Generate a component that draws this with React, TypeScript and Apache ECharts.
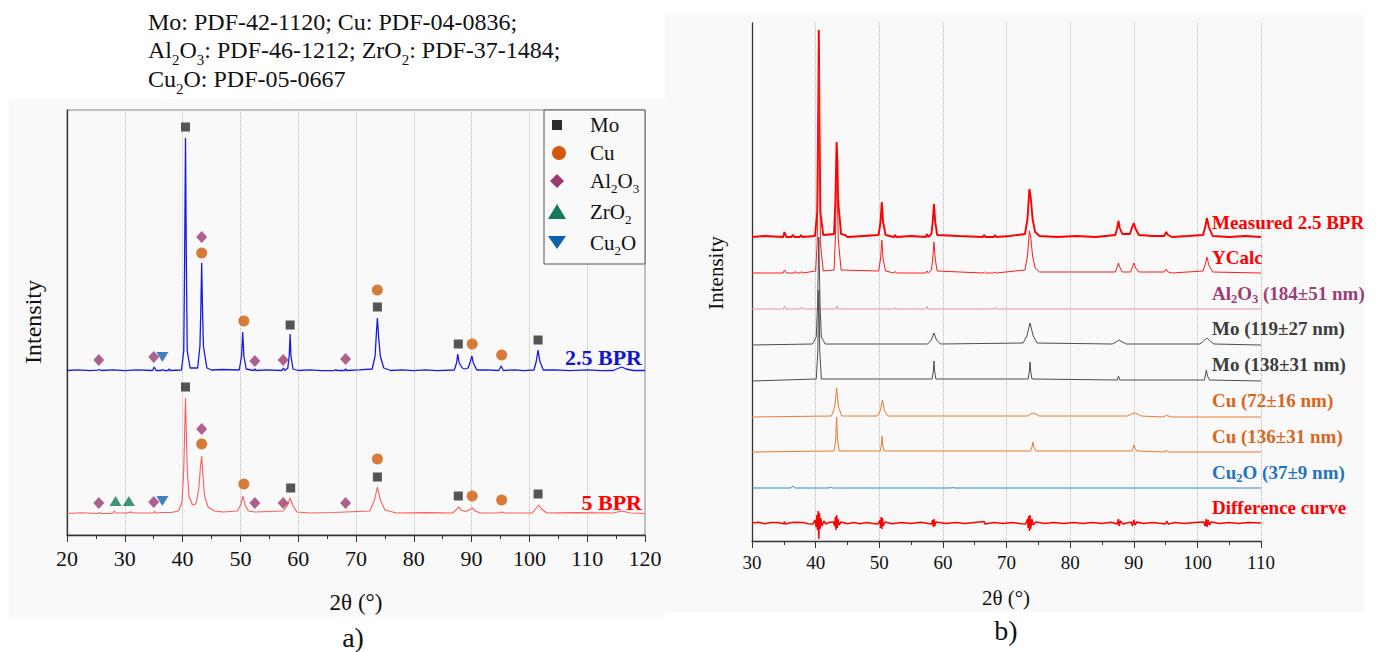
import React, { useEffect, useRef } from "react";
import * as echarts from "echarts";

const FONT = "Liberation Serif, Times New Roman, serif";

// ---------- Panel a) : 2θ vs intensity above each pattern's own baseline ----------
const patternA_25BPR: number[][] = [
  [20, 0.5], [22, 1.2], [24, 0.3], [25.3, 0.8], [25.6, 1.5], [25.9, 0.5], [28, 1.2], [30, 0.3], [32, 1.1], [34.8, 0.5], [35.1, 4], [35.4, 0.5], [36.3, 0.5], [36.5, 1.5], [36.8, 0.5],
  [37.5, 0.5], [37.7, 2], [37.9, 0.5], [39.8, 1], [40.2, 20], [40.35, 110], [40.5, 233], [40.65, 110], [40.8, 20], [41.3, 3],
  [42.6, 3], [43.0, 25], [43.15, 60], [43.3, 108], [43.45, 60], [43.6, 25], [44.2, 3], [45, 1], [47, 1.5], [49.8, 1], [50.2, 15],
  [50.4, 39], [50.6, 15], [51.0, 2], [52.3, 0.5], [52.5, 2], [52.7, 0.5], [54.5, 1.2], [57.2, 0.5], [57.45, 3], [57.7, 0.5], [58.2, 3],
  [58.45, 15], [58.6, 37], [58.75, 15], [59.1, 2], [60, 0.5], [62, 1.2], [64, 0.4], [66.3, 0.5], [66.5, 1.5], [66.7, 0.5], [68.0, 0.5], [68.2, 2],
  [68.4, 0.5], [70.5, 1.2], [72.8, 2], [73.3, 15], [73.5, 35], [73.7, 53], [73.9, 35], [74.2, 15], [74.8, 3], [76, 0.5], [78, 1.2], [80, 0.3], [82, 1.1], [84, 0.4], [87.0, 1],
  [87.4, 8], [87.6, 17], [87.85, 8], [88.4, 3], [88.8, 2], [89.4, 3], [89.8, 10], [90.05, 15], [90.3, 8], [90.9, 1],
  [92.5, 1.2], [94.7, 0.5], [95.1, 5], [95.5, 0.5], [97.5, 1.2], [99, 0.4], [100.8, 1], [101.2, 10], [101.5, 21], [101.8, 10], [102.4, 1], [104.5, 1.2], [107, 0.3], [110, 1.1], [112.5, 0.4], [114.5, 0.5], [115.5, 3],
  [116, 4], [116.7, 2], [118, 0.5], [120, 0.5],
];
const patternA_5BPR: number[][] = [
  [20, 0.5], [22.5, 1.2], [25.3, 0.5], [25.6, 1.5], [25.9, 0.5], [27.9, 0.5], [28.2, 3], [28.5, 1], [30.4, 1], [31, 2], [31.6, 1],
  [34.9, 1], [35.1, 2.5], [35.4, 1], [36.5, 1.5], [38, 1.5], [39.3, 3], [39.9, 12], [40.2, 45], [40.5, 116], [40.8, 45],
  [41.1, 18], [41.7, 9], [42.3, 10], [42.8, 25], [43.1, 48], [43.3, 58], [43.5, 40], [43.8, 18], [44.4, 7], [45.5, 3],
  [47, 2], [49.5, 3], [50.1, 10], [50.45, 18], [50.8, 9], [51.4, 3], [52.5, 2], [57.4, 3], [58.1, 8], [58.6, 16],
  [59.1, 8], [59.8, 2], [62, 1], [66, 1.5], [72.4, 3], [73.2, 14], [73.7, 27], [74.2, 14], [75, 4], [77, 1], [82, 1.4], [86.7, 1],
  [87.3, 4], [87.7, 7], [88.2, 4], [88.9, 2.5], [89.6, 4], [90.1, 6], [90.6, 3], [91.5, 1], [94.7, 1], [95.2, 2],
  [95.7, 1], [100.5, 1], [101.2, 6], [101.6, 9], [102.1, 5], [103, 1], [108, 1.4], [114.5, 1], [116, 3], [117.5, 1], [120, 0.5],
];
const offsetA_25BPR = 164;
const offsetA_5BPR = 21;

// phase markers (2θ, height on panel a's axis)
const markMo: number[][] = [[40.5, 408], [58.6, 210], [73.7, 228], [87.7, 191], [101.5, 195],
  [40.5, 148], [58.7, 47], [73.7, 58], [87.7, 39], [101.5, 41]];
const markCu: number[][] = [[43.3, 282], [50.6, 214], [73.7, 245], [90.1, 191], [95.2, 180],
  [43.3, 91], [50.6, 51], [73.7, 76], [90.1, 39], [95.2, 35]];
const markAl2O3: number[][] = [[43.3, 298], [25.5, 175], [35.0, 178], [52.5, 174], [57.4, 175], [68.2, 176],
  [43.3, 106], [25.5, 32], [35.0, 33], [52.5, 32], [57.4, 32], [68.2, 32]];
const markZrO2: number[][] = [[28.4, 34], [30.7, 34]];
const markCu2O: number[][] = [[36.5, 178], [36.5, 34]];

// ---------- Panel b) : Rietveld components ----------
const measured: number[][] = [
  [30, 0], [32, 1], [34.9, 0], [35.1, 5], [35.4, 0], [36.2, 0], [36.4, 2], [36.7, 0], [37.5, 0], [37.7, 2], [37.9, 0],
  [39.9, 1], [40.25, 25], [40.4, 120], [40.5, 207], [40.6, 120], [40.75, 25], [41.2, 2], [42.9, 3], [43.1, 35], [43.25, 80],
  [43.3, 95], [43.4, 80], [43.55, 35], [44, 3], [44.6, 2], [45, 0], [47.5, 1], [49.9, 2], [50.2, 15], [50.4, 35], [50.6, 15],
  [51, 2], [52.3, 0], [52.5, 2], [52.7, 0], [55, 1], [57.3, 0], [57.5, 3], [57.7, 0], [58.2, 3], [58.4, 15], [58.6, 33],
  [58.8, 15], [59.1, 2], [62.5, 1], [66.3, 0], [66.5, 2], [66.7, 0], [68, 0], [68.2, 2], [68.4, 0], [70.5, 1], [72.9, 3], [73.3, 18],
  [73.6, 48], [73.8, 40], [74.1, 18], [74.5, 5], [75.2, 1], [78, 0], [81, 1], [84, 0], [87.1, 2], [87.4, 9], [87.6, 16], [87.8, 9], [88.2, 3],
  [89.4, 3], [89.75, 10], [90, 14], [90.3, 8], [90.8, 2], [93, 1], [94.8, 1], [95.1, 5], [95.4, 2], [96, 0], [98.5, 1], [100.9, 2],
  [101.3, 12], [101.5, 19], [101.8, 10], [102.4, 1], [105, 0], [107.5, 1], [110, 0],
];
const yCalc: number[][] = [
  [30, 0], [34.9, 0], [35.1, 3], [35.4, 0], [36.6, 0], [36.8, 1.5], [37, 0], [37.6, 0], [37.8, 1.5], [38, 0],
  [40, 2], [40.25, 30], [40.4, 130], [40.5, 205], [40.6, 130], [40.75, 30], [41.2, 2], [42.9, 3], [43.1, 35], [43.25, 80],
  [43.3, 93], [43.4, 80], [43.55, 35], [44, 3], [49.9, 2], [50.2, 14], [50.4, 33], [50.6, 14], [51, 2], [52.3, 0],
  [52.5, 1.5], [52.7, 0], [57.3, 0], [57.5, 2], [57.7, 0], [58.2, 3], [58.4, 14], [58.6, 31], [58.8, 14], [59.1, 2],
  [66.3, 0], [66.5, 1], [66.7, 0], [68, 0], [68.2, 1], [68.4, 0], [72.9, 3], [73.3, 17], [73.6, 42], [73.8, 36],
  [74.1, 17], [74.5, 5], [75.2, 1], [87.1, 1], [87.4, 6], [87.6, 10], [87.8, 6], [88.2, 1], [89.5, 1], [89.8, 6],
  [90, 10], [90.3, 5], [90.8, 1], [94.8, 1], [95.1, 4], [95.4, 1], [96, 0], [100.9, 2], [101.3, 10], [101.5, 16],
  [101.8, 8], [102.4, 1], [110, 0],
];
const al2o3Phase: number[][] = [
  [30, 0], [34.9, 0], [35.1, 3], [35.3, 0], [37.6, 0], [37.8, 2], [38, 0], [43.2, 0], [43.35, 3], [43.5, 0],
  [52.4, 0], [52.55, 1.5], [52.7, 0], [57.3, 0], [57.5, 2.5], [57.7, 0], [66.4, 0], [66.5, 1], [66.7, 0], [68.1, 0],
  [68.2, 1.5], [68.4, 0], [110, 0],
];
const mo119Phase: number[][] = [
  [30, 0], [39.5, 1], [40.1, 8], [40.3, 40], [40.5, 108], [40.7, 40], [40.9, 8], [41.5, 1], [57.6, 1], [58.2, 5],
  [58.6, 12], [59, 5], [59.6, 1], [72.6, 2], [73.2, 9], [73.7, 22], [74.2, 9], [74.8, 2], [86.6, 1], [87.2, 3],
  [87.7, 5], [88.2, 3], [88.8, 1], [100.4, 1], [101.0, 4], [101.5, 7], [102, 4], [102.6, 1], [110, 0],
];
const mo138Phase: number[][] = [
  [30, 0], [40.1, 2], [40.35, 30], [40.5, 91], [40.65, 30], [40.9, 2], [58.3, 2], [58.5, 10], [58.6, 20], [58.7, 10],
  [58.9, 2], [73.4, 2], [73.6, 10], [73.7, 19], [73.8, 10], [74, 2], [87.4, 1], [87.6, 5], [87.8, 1], [101.1, 1],
  [101.3, 7], [101.4, 11], [101.6, 5], [101.9, 1], [110, 0],
];
const cu72Phase: number[][] = [
  [30, 0], [42.5, 1], [43, 10], [43.3, 29], [43.6, 10], [44.1, 1], [49.7, 1], [50.2, 7], [50.5, 17], [50.8, 7],
  [51.3, 1], [73.3, 1], [73.8, 3], [74.2, 4], [74.6, 3], [75.1, 1], [89.0, 1], [89.6, 3], [90.1, 4], [90.6, 3],
  [91.2, 1], [94.5, 0], [95.2, 1.5], [95.9, 0], [110, 0],
];
const cu136Phase: number[][] = [
  [30, 0], [42.9, 1], [43.15, 12], [43.3, 35], [43.45, 12], [43.7, 1], [50.15, 1], [50.35, 7], [50.45, 16], [50.55, 7],
  [50.75, 1], [73.8, 1], [74.0, 5], [74.15, 10], [74.3, 5], [74.6, 1], [89.7, 1], [89.9, 4], [90.0, 7], [90.2, 4],
  [90.5, 1], [94.9, 0], [95.1, 2], [95.4, 0], [110, 0],
];
const cu2oPhase: number[][] = [
  [30, 0], [36.1, 0], [36.4, 2], [36.8, 0], [42.1, 0], [42.3, 0.8], [42.6, 0], [61.2, 0], [61.5, 0.5], [61.8, 0], [110, 0],
];
const difference: number[][] = [
  [30, 0], [31, 0.8], [32, -0.7], [33, 0.6], [34, 0.5], [35, -0.8], [35.1, 1.5], [35.2, -1], [36.5, 0.8], [38, 0.6], [38.8, -0.8], [39.6, -1], [39.9, 3], [40.1, -4], [40.2, 8],
  [40.3, -7], [40.4, 12], [40.5, -16], [40.6, 10], [40.7, -6], [40.8, 5], [41, -3], [41.3, 2], [41.6, -1], [42.2, 0.8], [42.8, 1],
  [43.0, -3], [43.1, 6], [43.2, -7], [43.3, 8], [43.4, -5], [43.5, 4], [43.7, -2], [44, 1], [45, -0.7], [46, 0.6], [47, -0.7], [48, 0.6], [49, -0.6], [49.8, -1], [50.1, 3],
  [50.2, -5], [50.3, 6], [50.4, -6], [50.5, 5], [50.6, -3], [50.9, 1], [52, -0.7], [53.5, 0.6], [55, -0.6], [56.5, 0.7], [58.2, -1], [58.4, 3], [58.5, -4], [58.6, 4],
  [58.7, -3], [58.9, 1], [60.5, -0.6], [62, 0.6], [63.5, -0.6], [65, 0.6], [66.5, 1.5], [66.6, -1], [68, 0.6], [69.5, -0.6], [71, 0.6], [72.3, -0.7], [73, -1], [73.3, 4], [73.4, -5], [73.5, 7], [73.6, -8], [73.7, 8],
  [73.8, -6], [74, 4], [74.2, -2], [74.6, 1], [76, -0.6], [77.5, 0.6], [79, -0.6], [80.5, 0.6], [82, -0.6], [83.5, 0.6], [85, -0.6], [86.5, 0.7], [87.4, -1], [87.6, 4], [87.7, -3], [87.9, 2], [88.3, -1], [89.6, 1],
  [89.8, -3], [90, 3], [90.2, -2], [90.5, 1], [91.5, -0.6], [93, 0.6], [95, -1], [95.2, 2], [95.4, -1], [96.5, 0.6], [98, -0.6], [99.5, 0.6], [101, 1], [101.2, -3], [101.4, 4],
  [101.5, -4], [101.7, 3], [101.9, -2], [102.2, 1], [103.5, -0.6], [105, 0.6], [106.5, -0.6], [108, 0.6], [110, 0],
];

const curvesB = [
  { name: "Measured 2.5 BPR", data: measured, offset: 304, color: "#ff0000", width: 1.9, label: "Measured 2.5 BPR", labelColor: "#ff0000" },
  { name: "YCalc", data: yCalc, offset: 268, color: "#ff1a1a", width: 1, label: "YCalc", labelColor: "#ff0000" },
  { name: "Al2O3", data: al2o3Phase, offset: 232, color: "#e58fb0", width: 1, label: "Al_2O_3 (184±51 nm)", labelColor: "#993f78" },
  { name: "Mo 119", data: mo119Phase, offset: 196, color: "#4d4d4d", width: 1, label: "Mo (119±27 nm)", labelColor: "#3d3d3d" },
  { name: "Mo 138", data: mo138Phase, offset: 160, color: "#4d4d4d", width: 1, label: "Mo (138±31 nm)", labelColor: "#3d3d3d" },
  { name: "Cu 72", data: cu72Phase, offset: 124, color: "#ee7a30", width: 1, label: "Cu (72±16 nm)", labelColor: "#d9661c" },
  { name: "Cu 136", data: cu136Phase, offset: 89, color: "#ee7a30", width: 1, label: "Cu (136±31 nm)", labelColor: "#d9661c" },
  { name: "Cu2O", data: cu2oPhase, offset: 53, color: "#2f86d0", width: 1, label: "Cu_2O (37±9 nm)", labelColor: "#1f74c0" },
  { name: "Difference curve", data: difference, offset: 18, color: "#ff0000", width: 1.5, label: "Difference curve", labelColor: "#ff0000" },
];

const topNotes = [
  "Mo: PDF-42-1120; Cu: PDF-04-0836;",
  "Al_2O_3: PDF-46-1212; ZrO_2: PDF-37-1484;",
  "Cu_2O: PDF-05-0667",
];

const legendItems = [
  { label: "Mo", color: "#2b2b2b", shape: "square" },
  { label: "Cu", color: "#d05a0a", shape: "circle" },
  { label: "Al_2O_3", color: "#9b3b74", shape: "diamond" },
  { label: "ZrO_2", color: "#127a5a", shape: "triUp" },
  { label: "Cu_2O", color: "#1060b0", shape: "triDown" },
];

const xTitle = "2θ (°)";
const yTitle = "Intensity";

function toRich(s: string): string {
  return s
    .split(/(_\d)/)
    .filter((p) => p.length > 0)
    .map((p) => (p.startsWith("_") ? `{s|${p.slice(1)}}` : `{n|${p.replace(/[{}|]/g, "")}}`))
    .join("");
}

function shift(data: number[][], off: number) {
  return data.map(([x, y]) => [x, y + off]);
}

export default function App() {
  const ref = useRef<HTMLDivElement>(null);
  useEffect(() => {
    if (!ref.current) return;
    const chart = echarts.init(ref.current, undefined, { renderer: "svg" });

    const graphics: any[] = [];
    graphics.push({ type: "rect", z: -100, shape: { x: 9, y: 99, width: 656, height: 518 }, style: { fill: "#f9f9f9" } });
    graphics.push({ type: "rect", z: -100, shape: { x: 665, y: 15, width: 699, height: 597 }, style: { fill: "#f9f9f9" } });

    // top notes
    const noteY = [22, 50, 79];
    topNotes.forEach((t, i) => {
      graphics.push({
        type: "text", x: 148, y: noteY[i], z: 10,
        style: {
          text: toRich(t), textAlign: "left", textVerticalAlign: "middle",
          rich: {
            n: { fontSize: 24, fontFamily: FONT, fill: "#111" },
            s: { fontSize: 15, fontFamily: FONT, fill: "#111", padding: [20, 0, 0, 0] },
          },
        },
      });
    });

    // legend box
    const lx = 557, ly = [125, 153, 181, 212, 243];
    graphics.push({ type: "rect", z: 10, shape: { x: 544, y: 110, width: 101, height: 154 }, style: { fill: "#f9f9f9", stroke: "#555", lineWidth: 1 } });
    legendItems.forEach((it, i) => {
      const cy = ly[i];
      let sym: any;
      if (it.shape === "square") sym = { type: "rect", shape: { x: lx - 5, y: cy - 5, width: 10, height: 10 } };
      else if (it.shape === "circle") sym = { type: "circle", shape: { cx: lx + 2, cy, r: 7 } };
      else if (it.shape === "diamond") sym = { type: "polygon", shape: { points: [[lx, cy - 7], [lx + 7, cy], [lx, cy + 7], [lx - 7, cy]] } };
      else if (it.shape === "triUp") sym = { type: "polygon", shape: { points: [[lx, cy - 8], [lx + 9, cy + 7], [lx - 9, cy + 7]] } };
      else sym = { type: "polygon", shape: { points: [[lx - 9, cy - 7], [lx + 9, cy - 7], [lx, cy + 6]] } };
      sym.z = 11;
      sym.style = { fill: it.color };
      graphics.push(sym);
      graphics.push({
        type: "text", x: 590, y: cy, z: 11,
        style: {
          text: toRich(it.label), textAlign: "left", textVerticalAlign: "middle",
          rich: {
            n: { fontSize: 21, fontFamily: FONT, fill: "#111" },
            s: { fontSize: 13, fontFamily: FONT, fill: "#111", padding: [14, 0, 0, 0] },
          },
        },
      });
    });

    // panel a) pattern labels
    graphics.push({ type: "text", x: 642, y: 357, z: 12, style: { text: "2.5 BPR", textAlign: "right", textVerticalAlign: "middle", fontSize: 22, fontWeight: "bold", fontFamily: FONT, fill: "#1414c8" } });
    graphics.push({ type: "text", x: 642, y: 502, z: 12, style: { text: "5 BPR", textAlign: "right", textVerticalAlign: "middle", fontSize: 22, fontWeight: "bold", fontFamily: FONT, fill: "#ff0000" } });

    // panel b) labels
    const labelY = [222, 257, 293, 328, 364, 400, 436, 472, 507];
    curvesB.forEach((c, i) => {
      graphics.push({
        type: "text", x: 1212, y: labelY[i], z: 12,
        style: {
          text: toRich(c.label), textAlign: "left", textVerticalAlign: "middle",
          rich: {
            n: { fontSize: 19, fontWeight: "bold", fontFamily: FONT, fill: c.labelColor },
            s: { fontSize: 12.5, fontWeight: "bold", fontFamily: FONT, fill: c.labelColor, padding: [11, 0, 0, 0] },
          },
        },
      });
    });

    // axis titles
    const titleStyle = (text: string, size: number) => ({ text, textAlign: "center", textVerticalAlign: "middle", fontSize: size, fontFamily: FONT, fill: "#111" });
    graphics.push({ type: "text", x: 356, y: 602, z: 12, style: titleStyle(xTitle, 23) });
    graphics.push({ type: "text", x: 1006, y: 598, z: 12, style: titleStyle(xTitle, 21) });
    graphics.push({ type: "text", x: 33, y: 322, rotation: Math.PI / 2, z: 12, style: titleStyle(yTitle, 24) });
    graphics.push({ type: "text", x: 716, y: 273, rotation: Math.PI / 2, z: 12, style: titleStyle(yTitle, 21) });

    graphics.push({ type: "text", x: 353, y: 637, z: 12, style: titleStyle("a)", 28) });
    graphics.push({ type: "text", x: 1006, y: 630, z: 12, style: titleStyle("b)", 28) });

    const xAxisCommon = (min: number, max: number, gridIndex: number, size: number, margin: number) => ({
      gridIndex, type: "value", min, max, interval: 10,
      axisLine: { lineStyle: { color: "#333", width: 1.3 } },
      axisTick: { length: 7, lineStyle: { color: "#333" } },
      minorTick: { show: true, splitNumber: 2, length: 4, lineStyle: { color: "#333" } },
      axisLabel: {
        margin,
        formatter: (v: number) => `{t|${v}}`,
        rich: { t: { fontSize: size, fontFamily: FONT, color: "#111" } },
      },
      splitLine: { show: true, lineStyle: { type: "dotted", color: "#bdbdbd" } },
    });
    const yAxisCommon = (max: number, gridIndex: number) => ({
      gridIndex, type: "value", min: 0, max,
      axisLine: { show: true, lineStyle: { color: "#333", width: 1.3 } },
      axisTick: { show: false }, axisLabel: { show: false }, splitLine: { show: false },
    });

    const series: any[] = [];
    series.push({ type: "line", name: "2.5 BPR", xAxisIndex: 0, yAxisIndex: 0, data: shift(patternA_25BPR, offsetA_25BPR), showSymbol: false, lineStyle: { color: "#1a1ae6", width: 1.3 }, silent: true });
    series.push({ type: "line", name: "5 BPR", xAxisIndex: 0, yAxisIndex: 0, data: shift(patternA_5BPR, offsetA_5BPR), showSymbol: false, lineStyle: { color: "#ff5c5c", width: 1.1 }, silent: true });
    curvesB.forEach((c) => {
      series.push({ type: "line", name: c.name, xAxisIndex: 1, yAxisIndex: 1, data: shift(c.data, c.offset), showSymbol: false, lineStyle: { color: c.color, width: c.width }, silent: true });
    });
    series.push({ type: "scatter", name: "Mo", xAxisIndex: 0, yAxisIndex: 0, data: markMo, symbol: "rect", symbolSize: 9, itemStyle: { color: "#2b2b2b" }, z: 5 });
    series.push({ type: "scatter", name: "Cu", xAxisIndex: 0, yAxisIndex: 0, data: markCu, symbol: "circle", symbolSize: 11, itemStyle: { color: "#d05a0a" }, z: 5 });
    series.push({ type: "scatter", name: "Al2O3", xAxisIndex: 0, yAxisIndex: 0, data: markAl2O3, symbol: "diamond", symbolSize: [11, 12], itemStyle: { color: "#9b3b74" }, z: 5 });
    series.push({ type: "scatter", name: "ZrO2", xAxisIndex: 0, yAxisIndex: 0, data: markZrO2, symbol: "triangle", symbolSize: [12, 10], itemStyle: { color: "#127a5a" }, z: 5 });
    series.push({ type: "scatter", name: "Cu2O", xAxisIndex: 0, yAxisIndex: 0, data: markCu2O, symbol: "triangle", symbolRotate: 180, symbolSize: [12, 10], itemStyle: { color: "#1060b0" }, z: 5 });

    chart.setOption({
      animation: false,
      backgroundColor: "#ffffff",
      textStyle: { fontFamily: FONT },
      grid: [
        { left: 67, top: 110, width: 578, height: 425, show: true, borderColor: "#888", borderWidth: 1, backgroundColor: "transparent" },
        { left: 752, top: 23, width: 509, height: 518 },
      ],
      xAxis: [xAxisCommon(20, 120, 0, 22, 12), xAxisCommon(30, 110, 1, 19, 12)],
      yAxis: [yAxisCommon(425, 0), yAxisCommon(518, 1)],
      series,
      graphic: { elements: graphics },
    });
    return () => chart.dispose();
  }, []);
  return <div ref={ref} style={{ position: "absolute", left: 0, top: 0, width: 1379, height: 652 }} />;
}
